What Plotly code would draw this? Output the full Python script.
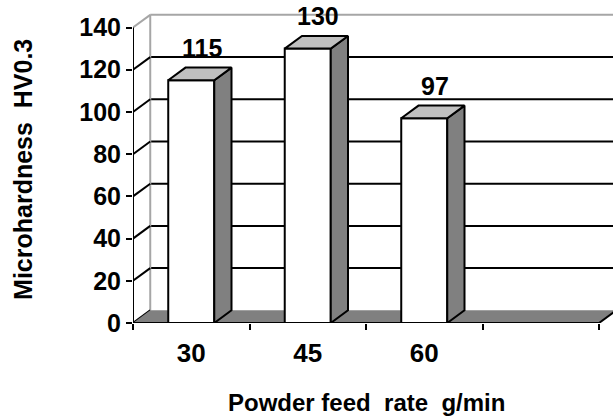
import plotly.graph_objects as go

# ---- data ----
categories = ["30", "45", "60"]
hardness = [115, 130, 97]
y_ticks = [0, 20, 40, 60, 80, 100, 120, 140]
n_slots = 4  # category slots on the axis (last one empty)

# ---- style / geometry (in data units) ----
BAR_W = 0.395
DX = 0.148   # depth offset along x (category units)
DY = 6.0     # depth offset along y (value units)
SIDE = "#808080"
TOP = "#c0c0c0"
EDGE = "#a6a6a6"
FONT = "Liberation Sans, Arial, sans-serif"

x_pos = list(range(len(categories)))
x_left = -0.5
x_right = x_left + n_slots
x_max = x_left + 480 / 116.5
y_max = 140 + 8.3

fig = go.Figure()
shapes = []

# back-wall gridlines
for v in y_ticks:
    if v == 0:
        continue
    col = EDGE if v == y_ticks[-1] else "black"
    shapes.append(dict(type="line", xref="x", yref="y", layer="below",
                       x0=x_left + DX, x1=x_max, y0=v + DY, y1=v + DY,
                       line=dict(color=col, width=2)))
# left wall back edge
shapes.append(dict(type="line", xref="x", yref="y", layer="below",
                   x0=x_left + DX, x1=x_left + DX, y0=DY, y1=y_ticks[-1] + DY,
                   line=dict(color=EDGE, width=2)))
# left-wall diagonals
for v in y_ticks:
    col = EDGE if v == y_ticks[-1] else "black"
    shapes.append(dict(type="line", xref="x", yref="y", layer="below",
                       x0=x_left, x1=x_left + DX, y0=v, y1=v + DY,
                       line=dict(color=col, width=2)))
# floor
shapes.append(dict(type="path", xref="x", yref="y", layer="below",
                   path=f"M {x_left},0 L {x_right},0 L {x_right + DX},{DY} L {x_left + DX},{DY} Z",
                   fillcolor=SIDE, line=dict(width=0)))
shapes.append(dict(type="line", xref="x", yref="y", layer="below",
                   x0=x_right, x1=x_right + DX, y0=0, y1=DY,
                   line=dict(color="black", width=2)))
# front axes lines
shapes.append(dict(type="line", xref="x", yref="y", layer="above",
                   x0=x_left, x1=x_left, y0=0, y1=y_ticks[-1],
                   line=dict(color="black", width=2)))
shapes.append(dict(type="line", xref="x", yref="y", layer="above",
                   x0=x_left, x1=x_right, y0=0, y1=0,
                   line=dict(color="black", width=2)))

# bar front faces
fig.add_trace(go.Bar(x=x_pos, y=hardness, width=BAR_W,
                     marker=dict(color="white", line=dict(color="black", width=2)),
                     hoverinfo="skip", showlegend=False))

# side and top faces
for xc, v in zip(x_pos, hardness):
    xl, xr = xc - BAR_W / 2, xc + BAR_W / 2
    fig.add_trace(go.Scatter(
        x=[xr, xr + DX, xr + DX, xr, xr], y=[0, DY, v + DY, v, 0],
        mode="lines", fill="toself", fillcolor=SIDE,
        line=dict(color="black", width=2), hoverinfo="skip", showlegend=False))
    fig.add_trace(go.Scatter(
        x=[xl, xr, xr + DX, xl + DX, xl], y=[v, v, v + DY, v + DY, v],
        mode="lines", fill="toself", fillcolor=TOP,
        line=dict(color="black", width=2), hoverinfo="skip", showlegend=False))

annotations = []
for xc, v in zip(x_pos, hardness):
    annotations.append(dict(x=xc + DX * 0.6, y=v + DY, xref="x", yref="y",
                            text=f"<b>{v}</b>", showarrow=False, yanchor="bottom",
                            yshift=4, font=dict(size=25, color="black", family=FONT)))
annotations.append(dict(x=(366 - 133) / 480, y=-0.255, xref="paper", yref="paper",
                        text="<b>Powder feed  rate  g/min</b>", showarrow=False,
                        xanchor="center", yanchor="middle",
                        font=dict(size=24, color="black", family=FONT)))
annotations.append(dict(x=(23 - 133) / 480, y=0.489, xref="paper", yref="paper",
                        text="<b>Microhardness  HV0.3</b>", showarrow=False, textangle=-90,
                        xanchor="center", yanchor="middle",
                        font=dict(size=25, color="black", family=FONT)))

fig.update_layout(
    width=613, height=417,
    margin=dict(l=133, r=0, t=10, b=94),
    paper_bgcolor="white", plot_bgcolor="white",
    shapes=shapes, annotations=annotations,
    showlegend=False,
    xaxis=dict(range=[x_left, x_max], showgrid=False, zeroline=False, showline=False,
               tickvals=x_pos, ticktext=[f"<b>{c}</b>" for c in categories], ticks="",
               ticklabelstandoff=12,
               tickfont=dict(size=26, color="black", family=FONT),
               minor=dict(tickvals=[x_left + k for k in range(n_slots + 1)],
                          ticks="outside", ticklen=6, tickwidth=2, tickcolor="black",
                          showgrid=False),
               fixedrange=True),
    yaxis=dict(range=[0, y_max], showgrid=False, zeroline=False, showline=False,
               tickvals=y_ticks, ticktext=[f"<b>{t}</b>" for t in y_ticks],
               ticks="outside", ticklen=6, tickwidth=2, tickcolor="black",
               tickfont=dict(size=25, color="black", family=FONT),
               fixedrange=True),
)

fig.write_html("out.html", config={"displayModeBar": False},
               post_script="document.body.style.margin='0';")
